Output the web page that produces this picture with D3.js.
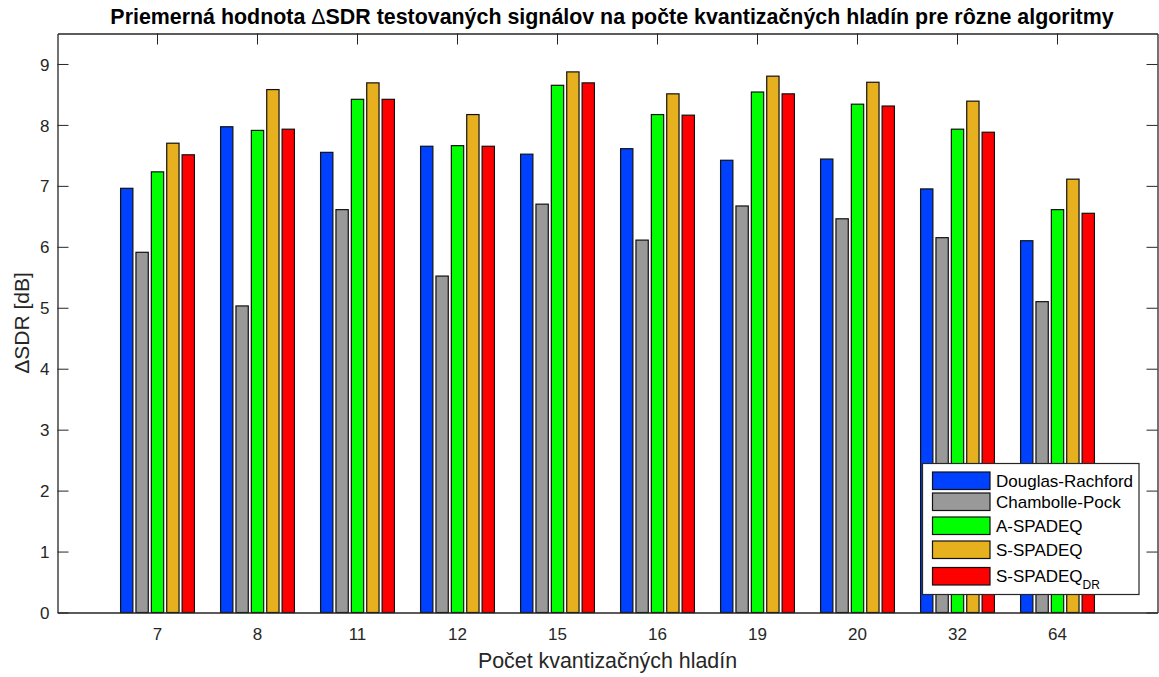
<!DOCTYPE html>
<html>
<head>
<meta charset="utf-8">
<script src="https://cdn.jsdelivr.net/npm/d3@7"></script>
<style>
  html, body { margin: 0; padding: 0; background: #fff; }
  svg { display: block; font-family: "Liberation Sans", Arial, Helvetica, sans-serif; }
</style>
</head>
<body>
<svg id="chart" width="1159" height="677"></svg>
<script>
const categories = ["7", "8", "11", "12", "15", "16", "19", "20", "32", "64"];
const seriesNames = ["Douglas-Rachford", "Chambolle-Pock", "A-SPADEQ", "S-SPADEQ", "S-SPADEQ_DR"];
const seriesColors = ["#0040ff", "#999999", "#00ff00", "#e6b01f", "#ff0000"];

const douglasRachford = [6.96, 7.97, 7.55, 7.65, 7.52, 7.61, 7.42, 7.44, 6.95, 6.10];
const chambollePock   = [5.91, 5.03, 6.61, 5.52, 6.70, 6.11, 6.67, 6.46, 6.15, 5.10];
const aSpadeq         = [7.23, 7.91, 8.42, 7.66, 8.65, 8.17, 8.54, 8.34, 7.93, 6.61];
const sSpadeq         = [7.70, 8.58, 8.69, 8.17, 8.87, 8.51, 8.80, 8.70, 8.39, 7.11];
const sSpadeqDR       = [7.51, 7.93, 8.42, 7.65, 8.69, 8.16, 8.51, 8.31, 7.88, 6.55];
const allSeries = [douglasRachford, chambollePock, aSpadeq, sSpadeq, sSpadeqDR];

const yTicks = [0, 1, 2, 3, 4, 5, 6, 7, 8, 9];

const svg = d3.select("#chart");
const axisColor = "#262626";
const margin = {left: 57.5, right: 1157.5, top: 33.5, bottom: 612.5};

const x = d3.scaleBand()
    .domain(categories)
    .range([margin.left, margin.right])
    .paddingInner(0)
    .paddingOuter(0.5);

// MATLAB grouped bar layout: group width = 5/(5+1.5) of a category step
const groupW = x.step() * 5 / 6.5;
const xSub = d3.scaleBand()
    .domain(d3.range(seriesNames.length))
    .range([-groupW / 2, groupW / 2])
    .paddingInner(0.2)
    .paddingOuter(0.1);

const y = d3.scaleLinear()
    .domain([0, 9.5])
    .range([margin.bottom, margin.top]);

// bars
const groups = svg.append("g")
  .selectAll("g")
  .data(categories)
  .join("g")
    .attr("transform", d => `translate(${x(d) + x.bandwidth() / 2},0)`);

groups.selectAll("rect")
  .data((d, i) => allSeries.map((s, k) => ({k, v: s[i]})))
  .join("rect")
    .attr("x", d => xSub(d.k))
    .attr("width", xSub.bandwidth())
    .attr("y", d => y(d.v))
    .attr("height", d => y(0) - y(d.v))
    .attr("fill", d => seriesColors[d.k])
    .attr("stroke", "#111")
    .attr("stroke-width", 1.2);

// axes (box style, ticks inward)
const tickLen = 11;
const yLeft = svg.append("g")
    .attr("transform", `translate(${margin.left},0)`)
    .call(d3.axisLeft(y).tickValues(yTicks).tickSize(-tickLen).tickPadding(8).tickSizeOuter(0));
const yRight = svg.append("g")
    .attr("transform", `translate(${margin.right},0)`)
    .call(d3.axisRight(y).tickValues(yTicks).tickSize(-tickLen).tickFormat("").tickSizeOuter(0));
const xBottom = svg.append("g")
    .attr("transform", `translate(0,${margin.bottom})`)
    .call(d3.axisBottom(x).tickSize(-tickLen).tickPadding(15).tickSizeOuter(0));
const xTop = svg.append("g")
    .attr("transform", `translate(0,${margin.top})`)
    .call(d3.axisTop(x).tickSize(-tickLen).tickFormat("").tickSizeOuter(0));

[yLeft, yRight, xBottom, xTop].forEach(g => {
  g.selectAll(".domain").attr("stroke", axisColor).attr("stroke-width", 1.3);
  g.selectAll(".tick line").attr("stroke", axisColor).attr("stroke-width", 1);
  g.selectAll(".tick text")
    .attr("fill", axisColor)
    .style("font-size", "17px")
    .style("font-family", "'Liberation Sans', Arial, sans-serif");
});
xBottom.selectAll(".tick line").remove();
yLeft.selectAll(".tick text").attr("dy", "0.36em");

// title
const title = svg.append("text")
    .attr("x", 612)
    .attr("y", 24)
    .attr("text-anchor", "middle")
    .attr("fill", "#000")
    .style("font-size", "21.4px")
    .style("font-weight", "bold");
title.append("tspan").text("Priemerná hodnota ");
title.append("tspan").style("font-weight", "normal").text("Δ");
title.append("tspan").text("SDR testovaných signálov na počte kvantizačných hladín pre rôzne algoritmy");

// axis labels
svg.append("text")
    .attr("x", (margin.left + margin.right) / 2)
    .attr("y", 668)
    .attr("text-anchor", "middle")
    .attr("fill", axisColor)
    .style("font-size", "21.4px")
    .text("Počet kvantizačných hladín");

svg.append("text")
    .attr("transform", `translate(29,${(margin.top + margin.bottom) / 2}) rotate(-90)`)
    .attr("text-anchor", "middle")
    .attr("fill", axisColor)
    .style("font-size", "21px")
    .text("ΔSDR [dB]");

// legend
const legend = svg.append("g").attr("transform", "translate(922.5,463.5)");
legend.append("rect")
    .attr("width", 216.5)
    .attr("height", 131)
    .attr("fill", "#fff")
    .attr("stroke", axisColor)
    .attr("stroke-width", 1.2);

const rowY = [17, 38, 62, 86, 112.5];
const items = legend.selectAll("g.item")
  .data(seriesNames)
  .join("g")
    .attr("class", "item")
    .attr("transform", (d, i) => `translate(0,${rowY[i]})`);

items.append("rect")
    .attr("x", 10)
    .attr("y", -8.5)
    .attr("width", 57.5)
    .attr("height", 17.5)
    .attr("fill", (d, i) => seriesColors[i])
    .attr("stroke", "#111")
    .attr("stroke-width", 1.2);

items.append("text")
    .attr("x", 73.5)
    .attr("dy", "0.36em")
    .attr("fill", "#000")
    .style("font-size", "17px")
    .each(function(d) {
      const t = d3.select(this);
      const parts = d.split("_");
      t.append("tspan").text(parts[0]);
      if (parts[1]) {
        t.append("tspan")
          .attr("dy", "0.55em")
          .style("font-size", "12px")
          .text(parts[1]);
      }
    });
</script>
</body>
</html>
